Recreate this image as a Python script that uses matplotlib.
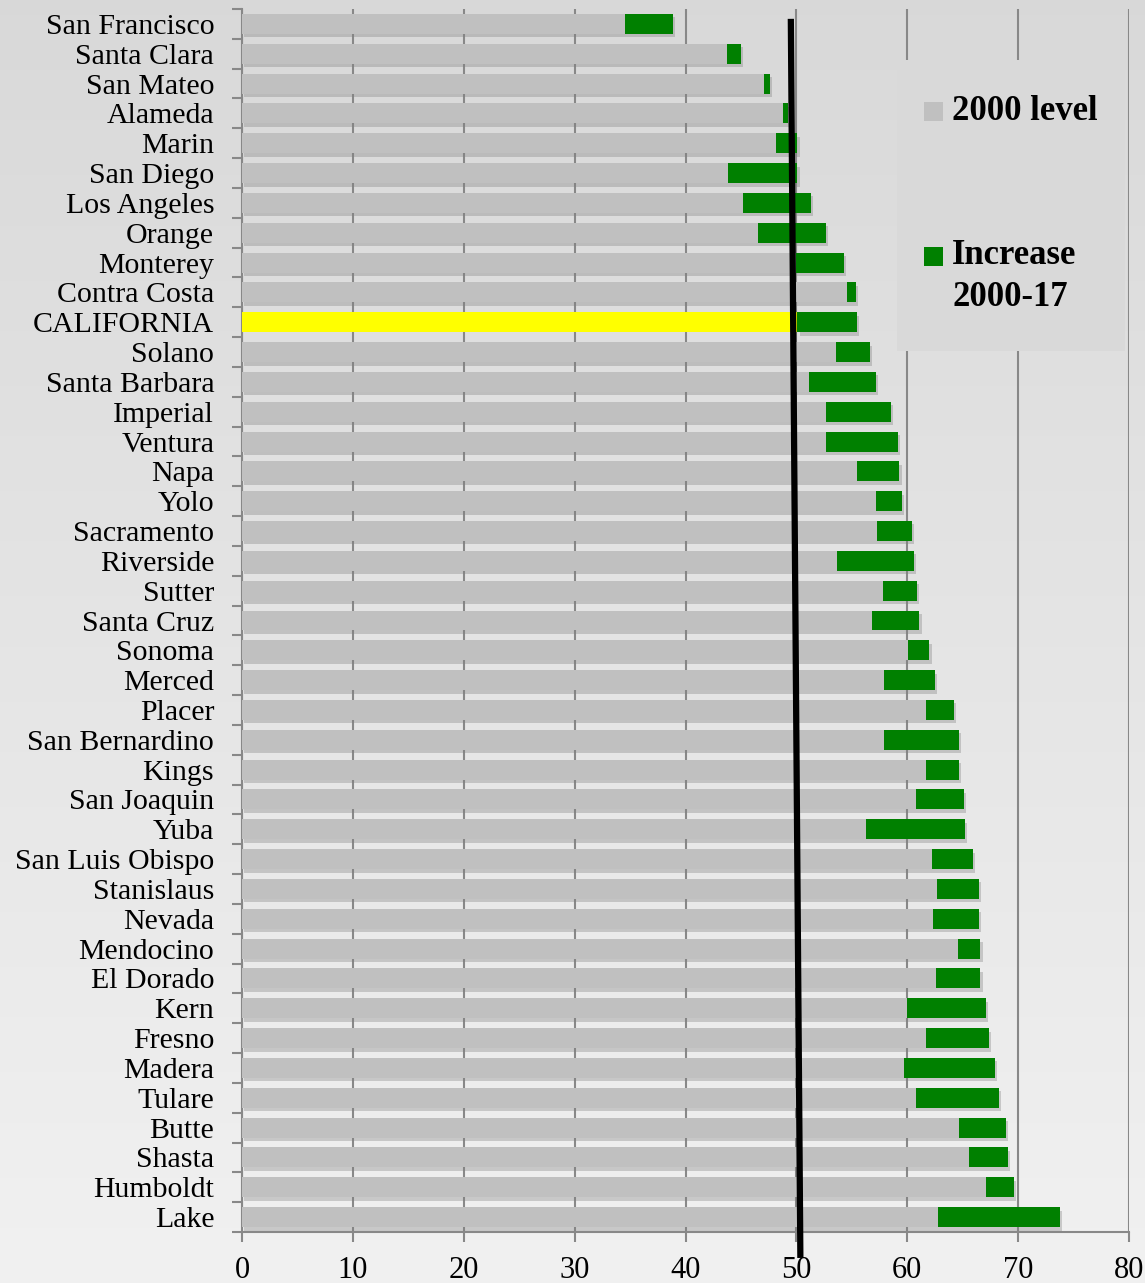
import matplotlib
matplotlib.use("Agg")
import matplotlib.pyplot as plt
import matplotlib.patheffects as pe
from matplotlib.patches import Rectangle
import numpy as np

counties = ["San Francisco", "Santa Clara", "San Mateo", "Alameda", "Marin", "San Diego",
            "Los Angeles", "Orange", "Monterey", "Contra Costa", "CALIFORNIA", "Solano",
            "Santa Barbara", "Imperial", "Ventura", "Napa", "Yolo", "Sacramento", "Riverside",
            "Sutter", "Santa Cruz", "Sonoma", "Merced", "Placer", "San Bernardino", "Kings",
            "San Joaquin", "Yuba", "San Luis Obispo", "Stanislaus", "Nevada", "Mendocino",
            "El Dorado", "Kern", "Fresno", "Madera", "Tulare", "Butte", "Shasta", "Humboldt", "Lake"]
level_2000 = [34.5, 43.7, 47.1, 48.8, 48.2, 43.8, 45.2, 46.5, 50.0, 54.6, 50.1, 53.6,
              51.1, 52.7, 52.7, 55.5, 57.2, 57.3, 53.7, 57.8, 56.8, 60.1, 57.9, 61.7,
              57.9, 61.7, 60.8, 56.3, 62.2, 62.7, 62.3, 64.6, 62.6, 60.0, 61.7, 59.7,
              60.8, 64.7, 65.6, 67.1, 62.8]
level_2017 = [38.9, 45.0, 47.6, 49.2, 50.1, 50.1, 51.3, 52.7, 54.3, 55.4, 55.5, 56.6,
              57.2, 58.5, 59.2, 59.3, 59.5, 60.4, 60.6, 60.9, 61.1, 62.0, 62.5, 64.2,
              64.7, 64.7, 65.1, 65.2, 65.9, 66.5, 66.5, 66.6, 66.6, 67.1, 67.4, 67.9,
              68.3, 68.9, 69.1, 69.6, 73.8]
increase = [b - a for a, b in zip(level_2000, level_2017)]
x_ticks = [0, 10, 20, 30, 40, 50, 60, 70, 80]
ref_line_x = [49.5, 50.36]
ref_line_y = [-0.17, 41.37]

SERIF = ["Liberation Serif", "DejaVu Serif"]
plt.rcParams['font.family'] = SERIF

W, H = 1145, 1283
fig = plt.figure(figsize=(W / 100, H / 100), dpi=100)

# background gradient
bg = fig.add_axes([0, 0, 1, 1], zorder=-10)
grad = np.linspace(0, 1, 256).reshape(-1, 1)
top_c = np.array([0.850, 0.850, 0.850])
bot_c = np.array([0.945, 0.945, 0.945])
img = top_c + (bot_c - top_c) * grad
bg.imshow(np.repeat(img[:, None, :], 2, axis=1).reshape(256, 2, 3), aspect='auto',
          extent=[0, 1, 0, 1], origin='upper')
bg.axis('off')

left = 242 / W
right = 1129 / W
top = 1 - 9 / H
bottom = 1 - 1232 / H
ax = fig.add_axes([left, bottom, right - left, top - bottom])
ax.patch.set_alpha(0)

y = np.arange(len(counties))
base_colors = ["#ffff00" if c == "CALIFORNIA" else "#c0c0c0" for c in counties]
shadow = [pe.SimplePatchShadow(offset=(1.5, -2.5), shadow_rgbFace="#808080", alpha=0.35), pe.Normal()]
b1 = ax.barh(y, level_2000, height=0.67, color=base_colors, zorder=3)
b2 = ax.barh(y, increase, left=level_2000, height=0.67, color="#008000", zorder=3)
for bar, cnty in zip(b1, counties):
    if cnty != "CALIFORNIA":
        bar.set_path_effects(shadow)
for bar in b2:
    bar.set_path_effects(shadow)

ax.set_xlim(0, 80)
ax.set_ylim(len(counties) - 0.5, -0.5)
ax.set_xticks(x_ticks)
ax.set_xticklabels([str(t) for t in x_ticks], fontsize=22)
ax.set_yticks(y)
ax.set_yticklabels(counties, fontsize=21.5)
ax.tick_params(axis='y', length=0, pad=20)
ax.set_yticks(np.arange(-0.5, len(counties), 1), minor=True)
ax.tick_params(axis='y', which='minor', length=7, color='#888888', width=1.5, direction='out')
ax.tick_params(axis='x', length=7, color='#888888', width=1.5, pad=10, direction='out')
ax.grid(axis='x', color='#888888', linewidth=1.5, zorder=1)
ax.set_axisbelow(True)
for s in ['top', 'right']:
    ax.spines[s].set_visible(False)
for s in ['left', 'bottom']:
    ax.spines[s].set_color('#888888')
    ax.spines[s].set_linewidth(1.5)

# reference line
ax.plot(ref_line_x, ref_line_y, color='black', linewidth=4.5, clip_on=False, zorder=6,
        solid_capstyle='butt')

# legend box
fig.patches.append(Rectangle((897 / W, 1 - 351 / H), (1125 - 897) / W, (351 - 60) / H,
                             transform=fig.transFigure, facecolor='#d9d9d9',
                             edgecolor='none', zorder=5))
fig.patches.append(Rectangle((924 / W, 1 - 121 / H), 19 / W, 19 / H,
                             transform=fig.transFigure, facecolor='#c0c0c0', zorder=6))
fig.patches.append(Rectangle((924 / W, 1 - 266 / H), 19 / W, 19 / H,
                             transform=fig.transFigure, facecolor='#008000', zorder=6))
fig.text(952 / W, 1 - 111 / H, "2000 level", fontsize=25, fontweight='bold',
         va='center', ha='left', zorder=7)
fig.text(952 / W, 1 - 256 / H, "Increase", fontsize=25, fontweight='bold',
         va='center', ha='left', zorder=7)
fig.text(952 / W, 1 - 298 / H, "2000-17", fontsize=25, fontweight='bold',
         va='center', ha='left', zorder=7)

fig.savefig("out.png", dpi=100)
